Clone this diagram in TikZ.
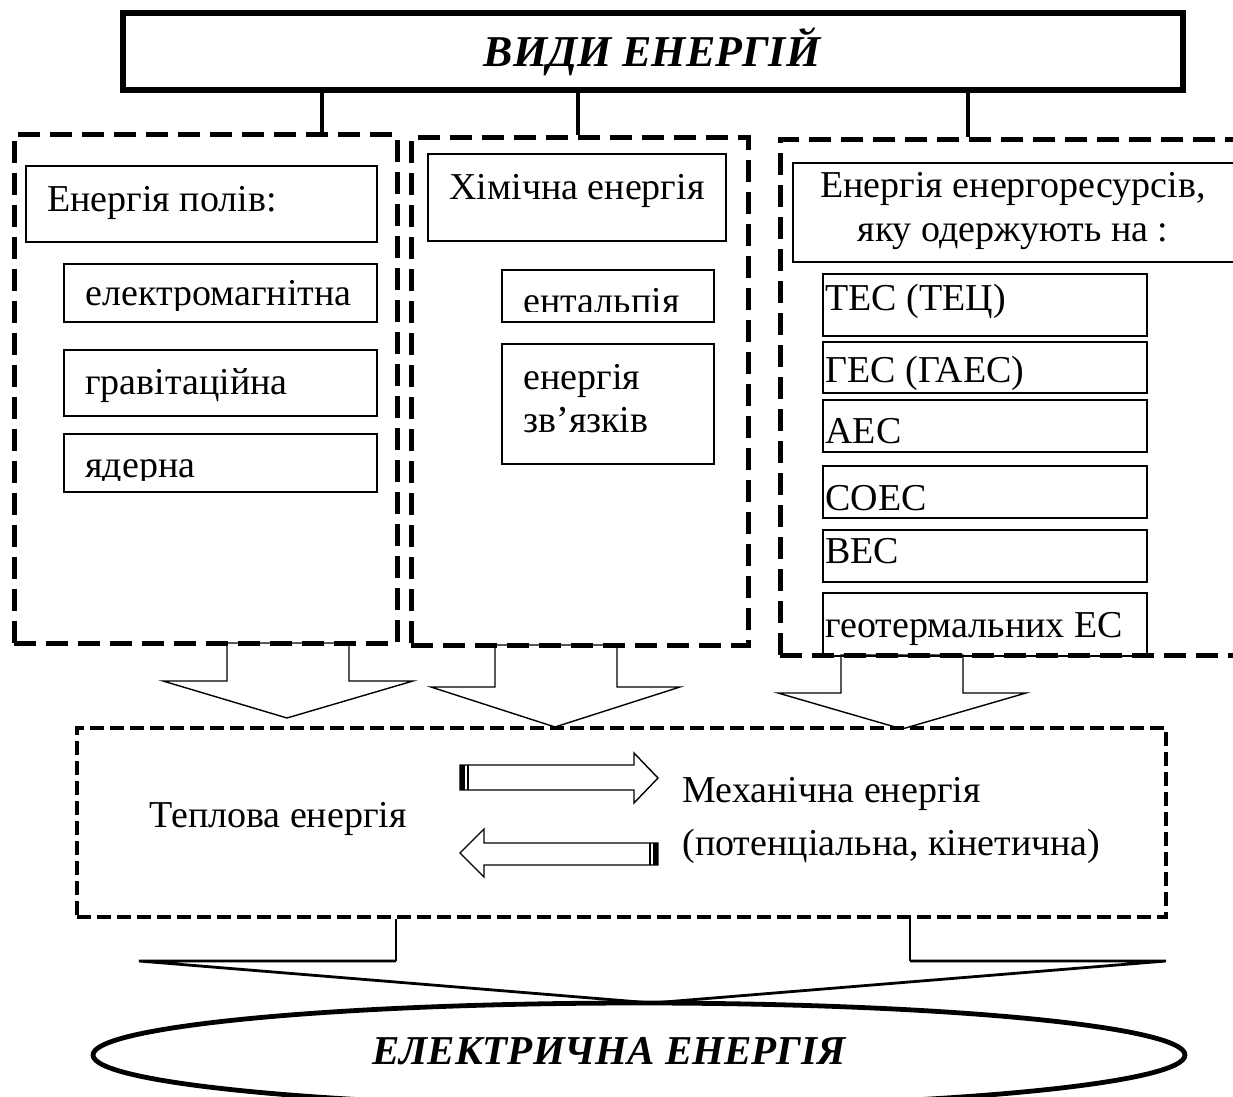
\documentclass[tikz,border=0pt]{standalone}
\usepackage{fontspec}
\setmainfont{Liberation Serif}
\usetikzlibrary{fit,shapes.geometric}
\begin{document}
\begin{tikzpicture}[x=0.5pt,y=-0.5pt,
  every node/.style={font=\fontsize{19}{21.5}\selectfont, inner sep=0pt},
  sub/.style={draw, line width=1pt, inner sep=0pt},
  grp/.style={draw, line width=2.5pt, dash pattern=on 11pt off 5pt},
  grp2/.style={draw, line width=2pt, dash pattern=on 7pt off 3pt},
  conn/.style={line width=2pt},
  blk/.style={draw, line width=0.7pt, line join=miter},
  txt/.style={anchor=base west},
  ttl/.style={font=\fontsize{22}{26}\selectfont\bfseries\itshape},
  ttl2/.style={font=\fontsize{20.5}{24}\selectfont\bfseries\itshape}]
\clip (0,0) rectangle (1233,1097);
\fill[white] (0,0) rectangle (1233,1097);

% title
\node[fit={(123,13) (1183,90)}, draw, line width=3pt] (title) {};
\node[ttl, anchor=base] (titlet) at (652,67) {ВИДИ ЕНЕРГІЙ};

% block arrows down
\draw[blk] (227,643) -- (349,643) -- (349,681) -- (413,681) -- (287,718) -- (163,681) -- (227,681) -- cycle;
\draw[blk] (495,645) -- (617,645) -- (617,687) -- (680,687) -- (555,727) -- (431,687) -- (495,687) -- cycle;
\draw[blk] (841,655) -- (963,655) -- (963,693) -- (1026,693) -- (902,729) -- (778,693) -- (841,693) -- cycle;

% groups
\node[grp, fit={(14,135) (397,643)}] (gpol) {};
\node[grp, fit={(411,138) (748,645)}] (gchem) {};
\node[grp, fit={(780,140) (1300,655)}] (gres) {};

% connectors from title
\coordinate (c1) at (322,0);
\coordinate (c2) at (578,0);
\coordinate (c3) at (968,0);
\draw[conn] (title.south -| c1) -- (gpol.north -| c1);
\draw[conn] (title.south -| c2) -- (gchem.north -| c2);
\draw[conn] (title.south -| c3) -- (gres.north -| c3);

% left column
\node[sub, fit={(26,166) (377,242)}] (bpol) {};
\node[txt] (tpol) at (47,212) {Енергія полів:};
\node[sub, fit={(64,264) (377,322)}] (bem) {};
\begin{scope}
\clip (64,264) rectangle (377,310);
\node[txt] (tem) at (85,306) {електромагнітна};
\end{scope}
\node[sub, fit={(64,350) (377,416)}] (bgr) {};
\node[txt] (tgr) at (85,394) {гравітаційна};
\node[sub, fit={(64,434) (377,492)}] (bnu) {};
\begin{scope}
\clip (64,434) rectangle (377,480);
\node[txt] (tnu) at (85,477) {ядерна};
\end{scope}

% middle column
\node[sub, fit={(428,154) (726,241)}] (bchem) {};
\node[anchor=base] (tchem) at (577,199) {Хімічна енергія};
\node[sub, fit={(502,270) (714,322)}] (bent) {};
\begin{scope}
\clip (502,270) rectangle (714,311);
\node[txt] (tent) at (523,314) {ентальпія};
\end{scope}
\node[sub, fit={(502,344) (714,464)}] (bbond) {};
\node[txt] (tbond1) at (523,389) {енергія};
\node[txt] (tbond2) at (523,432) {зв’язків};

% right column
\node[sub, fit={(793,163) (1240,262)}] (bres) {};
\node[anchor=base] (tres1) at (1013,198) {Енергія енергоресурсів,};
\node[anchor=base] (tres2) at (1013,242) {яку одержують на :};
\node[sub, fit={(823,274) (1147,336)}] (btes) {};
\node[txt] (ttes) at (825,310) {ТЕС (ТЕЦ)};
\node[sub, fit={(823,342) (1147,393)}] (bges) {};
\node[txt] (tges) at (825,382) {ГЕС (ГАЕС)};
\node[sub, fit={(823,400) (1147,452)}] (baes) {};
\node[txt] (taes) at (825,443) {АЕС};
\node[sub, fit={(823,466) (1147,518)}] (bsoes) {};
\node[txt] (tsoes) at (825,510) {СОЕС};
\node[sub, fit={(823,530) (1147,582)}] (bves) {};
\node[txt] (tves) at (825,563) {ВЕС};
\node[sub, fit={(823,593) (1147,656)}] (bgeo) {};
\node[txt] (tgeo) at (825,637) {геотермальних ЕС};

% lower group
\node[grp2, fit={(77,728) (1166,917)}] (gheat) {};
\node[txt] (theat) at (149,827) {Теплова енергія};
\node[txt] (tmech1) at (682,802) {Механічна енергія};
\node[txt] (tmech2) at (682,855) {(потенціальна, кінетична)};

% horizontal block arrows
\draw[blk] (460,765) -- (634,765) -- (634,753) -- (658,778) -- (634,803) -- (634,790) -- (460,790) -- cycle;
\fill (460,765) rectangle (465,790);
\draw[line width=0.6pt] (468,765) -- (468,790);
\draw[blk] (658,843) -- (484,843) -- (484,829) -- (460,853) -- (484,877) -- (484,865) -- (658,865) -- cycle;
\fill (653,843) rectangle (658,865);
\draw[line width=0.6pt] (650,843) -- (650,865);

% big arrow to electricity
\coordinate (s1) at (396,0);
\coordinate (s2) at (910,0);
\draw[line width=1pt] (gheat.south -| s1) -- (396,961);
\draw[line width=1pt] (gheat.south -| s2) -- (910,961);
\draw[line width=1.4pt, line join=miter] (396,961) -- (139,961) -- (652,1003) -- (1166,961) -- (910,961);

% ellipse
\node[ellipse, draw, line width=2.4pt, minimum width=546pt, minimum height=52pt] (elec) at (639,1055) {};
\node[ttl2, anchor=base] (elect) at (609,1064) {ЕЛЕКТРИЧНА ЕНЕРГІЯ};
\end{tikzpicture}
\end{document}
